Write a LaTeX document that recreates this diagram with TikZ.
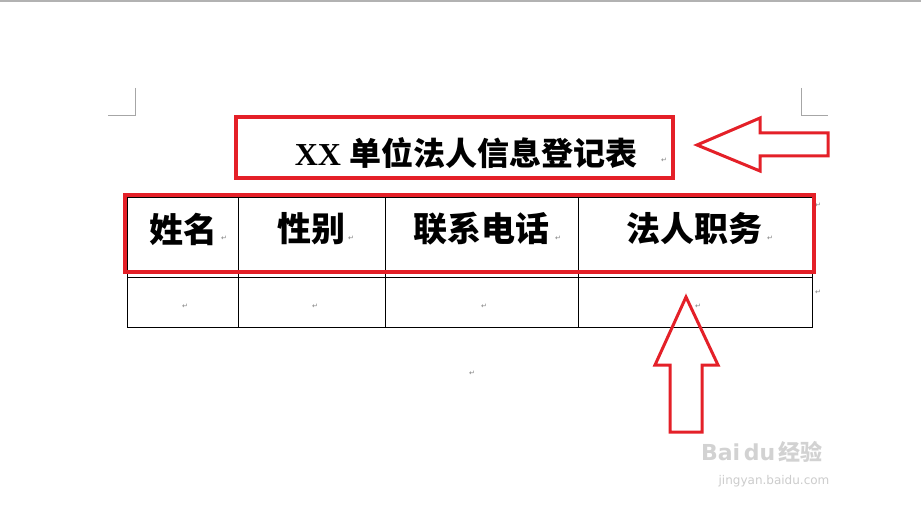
\documentclass[tikz,border=0pt]{standalone}
\usepackage{fontspec}
\newfontfamily\cjk{Noto Sans CJK SC}
\newfontfamily\dv{DejaVu Sans}
\setmainfont{Liberation Serif}
\definecolor{redline}{RGB}{228,32,40}
\begin{document}
\begin{tikzpicture}[x=1pt,y=-1pt,
  redbox/.style={draw=redline,line width=3.5pt},
  cell/.style={font=\cjk\bfseries\fontsize{34}{34}\selectfont},
  rm/.style={font=\dv\fontsize{7}{7}\selectfont,text=gray},
  grid/.style={line width=0.7pt}]
\useasboundingbox (0,0) rectangle (921,508);
\fill[white] (0,0) rectangle (921,508);
\draw[gray!60,line width=1.5pt] (0,1) -- (921,1);
\draw[gray!70] (135,88) -- (135,115) -- (108,115);
\draw[gray!70] (801,88) -- (801,115) -- (828,115);
% title
\node (title) at (466,153) {\fontsize{32}{32}\selectfont\bfseries XX\ {\cjk 单位法人信息登记表}};
\node[rm] at (664,160) {↵};
\draw[redbox] (236,117) rectangle (673,178);
% table
\draw[grid] (127,193) rectangle (812,327);
\draw[grid] (127,197) -- (812,197);
\draw[grid] (127,277) -- (812,277);
\foreach \x in {238,385,578} \draw[grid] (\x,193) -- (\x,327);
\node[cell] (c1) at (183,229) {姓名};
\node[cell] (c2) at (311,229) {性别};
\node[cell] (c3) at (481,229) {联系电话};
\node[cell] (c4) at (694,229) {法人职务};
\node[rm] at (224,238) {↵};
\node[rm] at (351,238) {↵};
\node[rm] at (558,238) {↵};
\node[rm] at (770,238) {↵};
\node[rm] at (818,205) {↵};
\node[rm] at (818,292) {↵};
\node[rm] at (185,306) {↵};
\node[rm] at (315,306) {↵};
\node[rm] at (484,306) {↵};
\node[rm] at (698,306) {↵};
\node[rm] at (472,373) {↵};
\draw[redbox] (125,195) rectangle (814,272);
% arrows
\draw[redbox,line width=3pt,line join=miter] (697,145) -- (760,118) -- (760,133) -- (828,133) -- (828,156) -- (760,156) -- (760,171) -- cycle;
\draw[redbox,line width=3pt,line join=miter] (686,297) -- (718,365) -- (702,365) -- (702,432) -- (670,432) -- (670,365) -- (655,365) -- cycle;
% watermark
\node[text=gray!35,font=\dv\bfseries\fontsize{22}{22}\selectfont] at (762,452) {Bai\,du\,{\cjk 经验}};
\node[text=gray!40,font=\dv\fontsize{12}{12}\selectfont] at (774,481) {jingyan.baidu.com};
\end{tikzpicture}
\end{document}
